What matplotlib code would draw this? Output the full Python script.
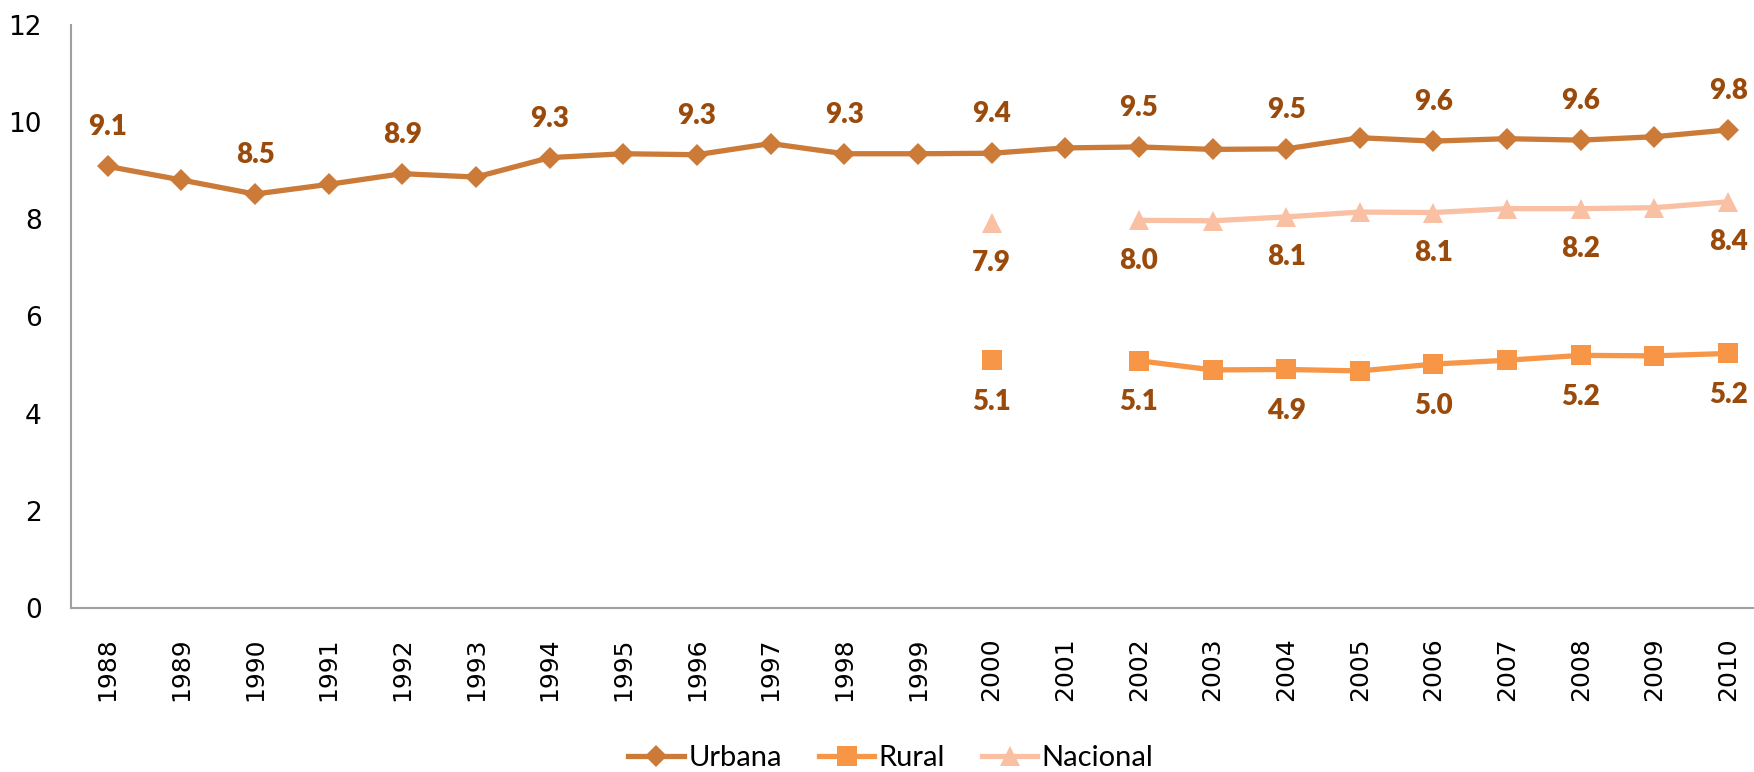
import matplotlib
matplotlib.use("Agg")
import matplotlib.pyplot as plt
import numpy as np

years = [str(y) for y in range(1988, 2011)]
urbana = [9.09, 8.81, 8.52, 8.72, 8.94, 8.87, 9.27, 9.35, 9.33, 9.56, 9.35, 9.35,
          9.36, 9.47, 9.49, 9.44, 9.45, 9.68, 9.61, 9.66, 9.63, 9.70, 9.84]
rural = [None]*12 + [5.10, None, 5.09, 4.90, 4.91, 4.88, 5.02, 5.10, 5.20, 5.19, 5.24]
nacional = [None]*12 + [7.92, None, 7.98, 7.97, 8.05, 8.15, 8.14, 8.22, 8.22, 8.24, 8.36]

urbana_labels = {0: "9.1", 2: "8.5", 4: "8.9", 6: "9.3", 8: "9.3", 10: "9.3", 12: "9.4",
                 14: "9.5", 16: "9.5", 18: "9.6", 20: "9.6", 22: "9.8"}
nacional_labels = {12: "7.9", 14: "8.0", 16: "8.1", 18: "8.1", 20: "8.2", 22: "8.4"}
rural_labels = {12: "5.1", 14: "5.1", 16: "4.9", 18: "5.0", 20: "5.2", 22: "5.2"}

c_urb = "#CB7A38"
c_rur = "#F79646"
c_nac = "#F9C0A3"
c_lab = "#9A4B0C"

plt.rcParams['font.family'] = ['DejaVu Sans']

fig = plt.figure(figsize=(17.54, 7.72), dpi=100)
ax = fig.add_axes([70.9/1754, 164/772, 1694/1754, 583/772])

x = np.arange(len(years))
to_arr = lambda v: np.array([np.nan if a is None else a for a in v], dtype=float)
u = to_arr(urbana); r = to_arr(rural); n = to_arr(nacional)

ax.plot(x, u, color=c_urb, lw=3.8, marker='D', ms=11.5, mew=0, label='Urbana')
ax.plot(x, r, color=c_rur, lw=3.8, marker='s', ms=14.5, mew=0, label='Rural')
ax.plot(x, n, color=c_nac, lw=3.8, marker='^', ms=15, mew=0, label='Nacional')

lab_kw = dict(color=c_lab, fontsize=20, fontweight='heavy', ha='center', va='center',
              textcoords='offset points', family=['Lato', 'DejaVu Sans'])
for i, t in urbana_labels.items():
    ax.annotate(t, (x[i], u[i]), xytext=(0, 28), **lab_kw)
for i, t in nacional_labels.items():
    ax.annotate(t, (x[i], n[i]), xytext=(0, -29), **lab_kw)
for i, t in rural_labels.items():
    ax.annotate(t, (x[i], r[i]), xytext=(0, -30), **lab_kw)

ax.set_xlim(-0.5, len(years) - 0.5)
ax.set_ylim(0, 12)
ax.set_yticks([0, 2, 4, 6, 8, 10, 12])
ax.set_xticks(x)
ax.set_xticklabels(years, rotation=90)
ax.tick_params(axis='y', length=0, pad=21, labelsize=19)
ax.tick_params(axis='x', length=0, pad=21, labelsize=18)
for s in ['top', 'right']:
    ax.spines[s].set_visible(False)
for s in ['left', 'bottom']:
    ax.spines[s].set_color('#A0A0A0')
    ax.spines[s].set_linewidth(1.5)

leg = fig.legend(loc='center', bbox_to_anchor=(0.508, 0.018), ncol=3, frameon=False,
                 prop={'family': ['Lato', 'DejaVu Sans'], 'size': 21},
                 handlelength=1.9, columnspacing=1.27, handletextpad=0.15,
                 borderpad=0)

fig.savefig("out.png", dpi=100)
